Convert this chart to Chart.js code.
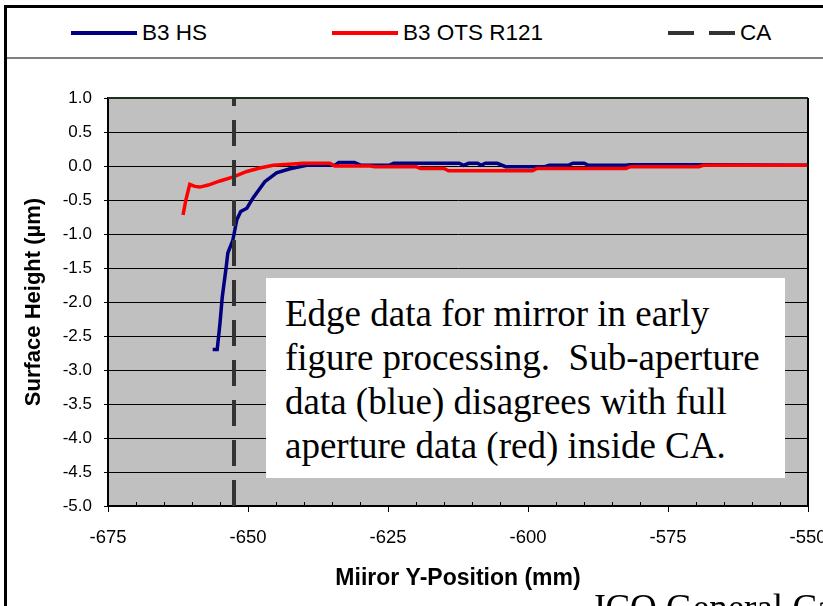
<!DOCTYPE html>
<html>
<head>
<meta charset="utf-8">
<script src="https://cdn.jsdelivr.net/npm/chart.js@4"></script>
<style>
  body { margin: 0; background: #fff; width: 823px; height: 606px; overflow: hidden; position: relative; }
  #frame { position: absolute; left: 4px; top: 5px; width: 840px; height: 620px; border-left: 3px solid #000; border-top: 3px solid #000; }
  #legend { position: absolute; left: 7px; top: 8px; width: 830px; height: 49px; border-bottom: 2px solid #7f7f7f;
            font-family: "Liberation Sans", Arial, sans-serif; font-size: 22.5px; color: #000; }
  .item { position: absolute; top: 12px; line-height: 26px; white-space: nowrap; }
  .swatch { display: inline-block; vertical-align: middle; height: 4px; margin-right: 5px; position: relative; top: -1px; }
  #note { position: absolute; left: 266px; top: 278px; width: 519px; height: 200px; background: #fff;
          font-family: "Liberation Serif", "Times New Roman", serif; font-size: 37px; line-height: 44px;
          padding: 14px 0 0 19px; box-sizing: border-box; white-space: pre; color: #000; }
  #footer { position: absolute; left: 591px; top: 588px; font-family: "Liberation Serif", serif; font-size: 37px;
            line-height: 40px; white-space: nowrap; color: #000; }
  canvas { position: absolute; left: 0; top: 0; }
</style>
</head>
<body>
<div id="frame"></div>
<div id="legend">
  <div class="item" style="left:64px"><span class="swatch" style="width:66px;background:#000080"></span>B3 HS</div>
  <div class="item" style="left:325px"><span class="swatch" style="width:66px;background:#ff0000"></span>B3 OTS R121</div>
  <div class="item" style="left:661px"><span class="swatch" style="width:26px;background:#333"></span><span class="swatch" style="width:26px;background:#333;margin-left:10px"></span>CA</div>
</div>
<canvas id="c" width="823" height="606"></canvas>
<div id="note">Edge data for mirror in early
figure processing.  Sub-aperture
data (blue) disagrees with full
aperture data (red) inside CA.</div>
<div id="footer">JCO General Ca</div>
<script>
// B3 HS (sub-aperture) profile
const hsX = [-656.3, -655.5, -655.0, -654.6, -653.9, -653.6, -652.7, -652.0, -651.3, -650.2, -649.1, -647.0,
  -644.9, -642.5, -639.5, -634.5, -633.8, -631.0, -629.8, -624.8, -624.0, -612.3, -611.5, -610.6, -609.0,
  -608.4, -607.6, -605.5, -604.0, -597.0, -596.2, -592.8, -592.0, -590.0, -589.2, -582.5, -581.8, -569.0, -550.0];
const hsY = [-2.70, -2.70, -2.31, -1.93, -1.49, -1.28, -1.09, -0.79, -0.67, -0.62, -0.47, -0.23,
  -0.10, -0.04, 0.01, 0.01, 0.05, 0.05, 0.01, 0.01, 0.04, 0.04, 0.01, 0.04, 0.04,
  0.01, 0.04, 0.04, -0.01, -0.01, 0.01, 0.01, 0.04, 0.04, 0.01, 0.01, 0.02, 0.02, 0.01];

// B3 OTS R121 (full aperture) profile
const otsX = [-661.6, -661.1, -660.4, -659.5, -658.6, -657.1, -655.0, -652.6, -650.2, -647.9, -645.5, -642.0,
  -640.2, -635.4, -634.5, -628.2, -627.4, -620.0, -619.2, -615.0, -614.2, -599.2, -598.4, -582.5, -581.7,
  -569.5, -568.7, -550.0];
const otsY = [-0.72, -0.50, -0.27, -0.30, -0.31, -0.28, -0.22, -0.16, -0.08, -0.03, 0.01, 0.03,
  0.04, 0.04, 0.00, 0.00, -0.01, -0.01, -0.035, -0.035, -0.07, -0.07, -0.035, -0.035, -0.01,
  -0.01, 0.01, 0.01];

// clear aperture marker
const caX = [-652.5, -652.5];
const caY = [-5.0, 1.0];

const xTicks = [-675, -650, -625, -600, -575, -550];
const yMin = -5.0, yMax = 1.0, yStep = 0.5;

const pts = (xs, ys) => xs.map((x, i) => ({ x: x, y: ys[i] }));

const plotArea = {
  id: 'plotArea',
  beforeDraw(chart) {
    const { ctx, chartArea: a } = chart;
    ctx.save();
    ctx.fillStyle = '#c0c0c0';
    ctx.fillRect(a.left, a.top, a.right - a.left, a.bottom - a.top);
    ctx.restore();
  },
  afterDatasetsDraw(chart) {
    const { ctx, chartArea: a, scales } = chart;
    ctx.save();
    ctx.strokeStyle = '#1c2e1c';
    ctx.lineWidth = 2;
    ctx.beginPath();
    ctx.moveTo(a.left, a.top); ctx.lineTo(a.right, a.top);
    ctx.stroke();
    ctx.strokeStyle = '#000';
    ctx.beginPath();
    ctx.moveTo(a.right, a.top); ctx.lineTo(a.right, a.bottom);
    ctx.stroke();
    // minor ticks every 5 mm on the x axis
    ctx.lineWidth = 1;
    ctx.beginPath();
    for (let v = -670; v < -550; v += 5) {
      if (v % 25 === 0) continue;
      const px = Math.round(scales.x.getPixelForValue(v)) + 0.5;
      ctx.moveTo(px, a.bottom); ctx.lineTo(px, a.bottom - 4);
    }
    ctx.stroke();
    ctx.restore();
  }
};

new Chart(document.getElementById('c'), {
  type: 'scatter',
  data: {
    datasets: [
      { label: 'B3 OTS R121', data: pts(otsX, otsY), showLine: true, borderColor: '#ff0000', borderWidth: 3.5, pointRadius: 0, order: 1 },
      { label: 'B3 HS', data: pts(hsX, hsY), showLine: true, borderColor: '#000080', borderWidth: 3.5, pointRadius: 0, order: 2 },
      { label: 'CA', data: pts(caX, caY), showLine: true, borderColor: '#333333', borderWidth: 4, borderDash: [26, 14], pointRadius: 0, order: 0 }
    ]
  },
  options: {
    responsive: false,
    animation: false,
    layout: { padding: { left: 0, top: 98, right: 15, bottom: 6 } },
    plugins: { legend: { display: false }, tooltip: { enabled: false } },
    scales: {
      x: {
        type: 'linear', min: -675, max: -550,
        afterFit(s) { s.height = 94; s.paddingLeft = 0; s.paddingRight = 0; },
        afterBuildTicks(s) { s.ticks = xTicks.map(v => ({ value: v })); },
        ticks: { color: '#000', padding: 15, font: { family: 'Liberation Sans', size: 18.5 }, callback: v => String(v) },
        grid: { drawOnChartArea: false, color: '#000', tickLength: 6, lineWidth: 1 },
        border: { color: '#000', width: 2 },
        title: { display: true, text: 'Miiror Y-Position (mm)', color: '#000', padding: { top: 0, bottom: 8 },
                 font: { family: 'Liberation Sans', size: 23, weight: 'bold' } }
      },
      y: {
        type: 'linear', min: yMin, max: yMax,
        afterFit(s) { s.width = 108; s.paddingTop = 0; s.paddingBottom = 0; },
        ticks: { stepSize: yStep, color: '#000', padding: 12, font: { family: 'Liberation Sans', size: 17 }, callback: v => v.toFixed(1) },
        grid: { color: '#000', lineWidth: 1, tickLength: 4 },
        border: { color: '#000', width: 2 },
        title: { display: true, text: 'Surface Height (µm)', color: '#000', padding: { top: 21, bottom: 0 },
                 font: { family: 'Liberation Sans', size: 22, weight: 'bold' } }
      }
    }
  },
  plugins: [plotArea]
});
</script>
</body>
</html>
